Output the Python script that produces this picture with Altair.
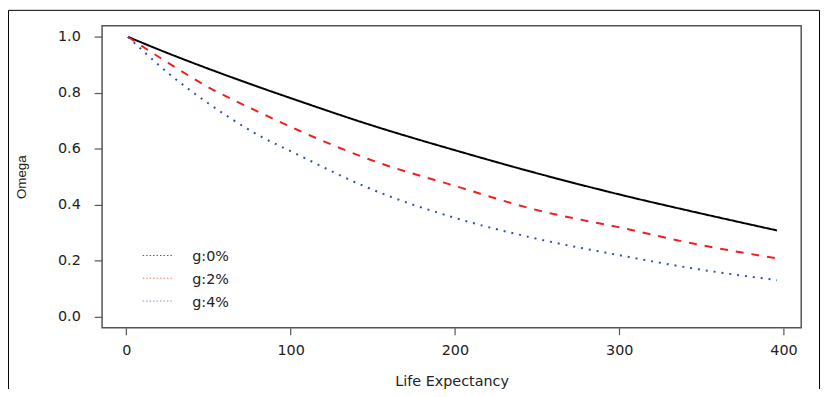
import altair as alt
import pandas as pd

# ---- data ----
life_exp = [1, 26, 50, 80, 104, 146, 204, 247, 304, 345, 396]
omega_g0 = [1.0, 0.940, 0.886, 0.822, 0.773, 0.690, 0.588, 0.517, 0.431, 0.375, 0.308]
omega_g2 = [1.0, 0.905, 0.820, 0.733, 0.668, 0.566, 0.460, 0.385, 0.314, 0.261, 0.208]
omega_g4 = [1.0, 0.868, 0.762, 0.650, 0.580, 0.463, 0.346, 0.282, 0.215, 0.172, 0.130]
series_names = ["g:0%", "g:2%", "g:4%"]
x_ticks = [0, 100, 200, 300, 400]
y_ticks = [0.0, 0.2, 0.4, 0.6, 0.8, 1.0]

colors = ["#000000", "#f01e1e", "#2f4fb5"]
dashes = [[1, 0], [8, 8], [2, 6]]
legend_colors = ["#555555", "#ff6b6b", "#7b8fd0"]

W, H = 706, 305
LABEL_FONT = "DejaVu Sans"

rows = []
for name, vals in zip(series_names, [omega_g0, omega_g2, omega_g4]):
    for xv, yv in zip(life_exp, vals):
        rows.append({"life": xv, "omega": yv, "series": name})
df = pd.DataFrame(rows)

xscale = alt.Scale(domain=[-14.76, 410.76], nice=False, zero=False)
yscale = alt.Scale(domain=[-0.04, 1.04], nice=False, zero=False)

xaxis = alt.Axis(values=x_ticks, format="d", grid=False, domain=False,
                 tickSize=7, tickColor="#555", tickWidth=1.2,
                 labelPadding=9, labelFont=LABEL_FONT, labelFontSize=14.5,
                 labelColor="#222", title="Life Expectancy",
                 titleFont=LABEL_FONT, titleFontSize=14.5, titleFontWeight="normal",
                 titleColor="#222", titleY=54, titleBaseline="middle")
yaxis = alt.Axis(values=y_ticks, format=".1f", grid=False, domain=False,
                 tickSize=8, tickColor="#555", tickWidth=1.2,
                 labelPadding=14, labelFont=LABEL_FONT, labelFontSize=14.5,
                 labelColor="#222", title="Omega",
                 titleFont="Liberation Sans", titleFontSize=13.5, titleFontWeight="normal",
                 titleColor="#222", titleX=-81, titleY=H / 2, titleBaseline="middle",
                 titleAlign="center", titleAngle=270)

layers = []
for i, name in enumerate(series_names):
    layers.append(
        alt.Chart(df[df.series == name])
        .mark_line(color=colors[i], strokeWidth=2, strokeDash=dashes[i],
                   interpolate="monotone")
        .encode(x=alt.X("life:Q", scale=xscale, axis=xaxis),
                y=alt.Y("omega:Q", scale=yscale, axis=yaxis))
    )

# legend (manual, inside plot)
leg_df = pd.DataFrame({"label": series_names})
for i, name in enumerate(series_names):
    yy = 232 + i * 23
    layers.append(
        alt.Chart(leg_df[leg_df.label == name])
        .mark_rule(color=legend_colors[i], strokeWidth=1, strokeDash=[1.5, 2])
        .encode(x=alt.value(41), x2=alt.value(72), y=alt.value(yy))
    )
    layers.append(
        alt.Chart(leg_df[leg_df.label == name])
        .mark_text(align="left", baseline="middle", font=LABEL_FONT, fontSize=14.5,
                   color="#222")
        .encode(x=alt.value(91), y=alt.value(yy + 2), text="label:N")
    )

# outer device frame
frame = (
    alt.Chart(pd.DataFrame({"a": [0]}))
    .mark_rect(fillOpacity=0, stroke="#000", strokeWidth=1)
    .encode(x=alt.value(-94.5), x2=alt.value(724.5), y=alt.value(-15.5), y2=alt.value(420))
)
layers.append(frame)

chart = (
    alt.layer(*layers)
    .properties(width=W, height=H, padding={"left": 95, "top": 16, "right": 21, "bottom": 60},
                autosize=alt.AutoSizeParams(type="none"), background="white")
    .configure_view(stroke="#555", strokeWidth=1.5)
)

chart.save("out.html", embed_options={"renderer": "svg", "actions": False})
